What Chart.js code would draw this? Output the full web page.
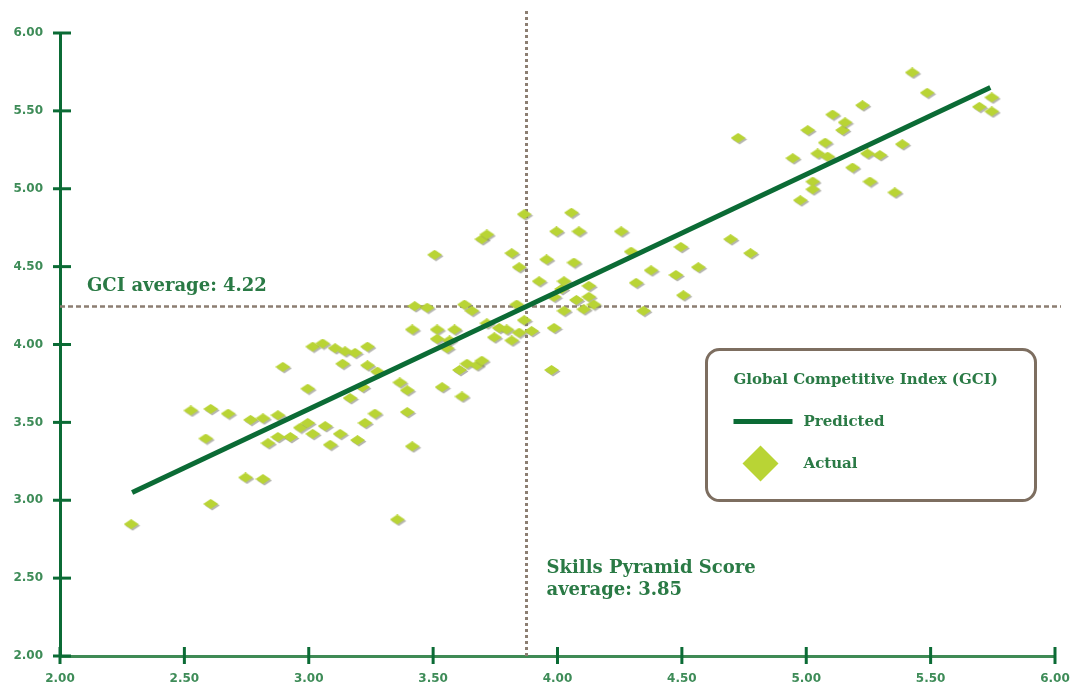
<!DOCTYPE html>
<html><head><meta charset="utf-8">
<script src="https://cdn.jsdelivr.net/npm/chart.js@4/dist/chart.umd.min.js"></script>
<style>html,body{margin:0;padding:0;background:#fff}#wrap{width:1073px;height:683px;position:relative}</style>
</head><body><div id="wrap"><canvas id="c" width="1073" height="683" style="width:1073px;height:683px"></canvas></div>
<script>
// ---- data ----
const actualX = [2.29,2.53,2.61,2.68,2.59,2.61,2.75,2.77,2.82,2.82,2.84,2.88,2.88,2.90,2.93,2.97,3.00,3.00,3.02,3.02,3.06,3.07,3.09,3.11,3.13,3.14,3.15,3.17,3.19,3.20,3.22,3.23,3.24,3.24,3.27,3.28,3.36,3.37,3.40,3.40,3.42,3.42,
3.43,3.48,3.51,3.52,3.52,3.54,3.56,3.57,3.59,3.61,3.62,3.63,3.64,3.66,3.68,3.70,3.70,3.72,3.72,3.75,3.77,3.80,3.82,3.82,3.84,3.85,3.85,3.87,3.87,3.90,3.93,3.96,3.98,3.99,3.99,4.00,4.02,4.03,4.03,4.06,4.07,4.08,4.09,4.11,4.13,4.13,4.15,4.26,4.30,4.32,4.35,4.38,
4.48,4.50,4.51,4.57,4.70,4.73,4.78,4.95,4.98,5.01,5.03,5.03,5.05,5.08,5.09,5.11,5.15,5.16,5.19,5.23,5.25,5.26,5.30,5.36,5.39,5.43,5.49,5.70,5.75,5.75];
const actualY = [2.84,3.57,3.58,3.55,3.39,2.97,3.14,3.51,3.52,3.13,3.36,3.54,3.40,3.85,3.40,3.46,3.71,3.49,3.98,3.42,4.00,3.47,3.35,3.97,3.42,3.87,3.95,3.65,3.94,3.38,3.72,3.49,3.98,3.86,3.55,3.82,2.87,3.75,3.70,3.56,4.09,3.34,
4.24,4.23,4.57,4.09,4.03,3.72,3.97,4.02,4.09,3.83,3.66,4.25,3.87,4.21,3.86,4.67,3.89,4.13,4.70,4.04,4.10,4.09,4.58,4.02,4.25,4.49,4.07,4.83,4.15,4.08,4.40,4.54,3.83,4.30,4.10,4.72,4.35,4.40,4.21,4.84,4.52,4.28,4.72,4.22,4.37,4.30,4.25,4.72,4.59,4.39,4.21,4.47,
4.44,4.62,4.31,4.49,4.67,5.32,4.58,5.19,4.92,5.37,5.04,4.99,5.22,5.29,5.20,5.47,5.37,5.42,5.13,5.53,5.22,5.04,5.21,4.97,5.28,5.74,5.61,5.52,5.58,5.49];
const predictedX = [2.29, 5.74];
const predictedY = [3.05, 5.65];
const xTickValues = [2.00,2.50,3.00,3.50,4.00,4.50,5.00,5.50,6.00];
const yTickValues = [2.00,2.50,3.00,3.50,4.00,4.50,5.00,5.50,6.00];
const gciAverage = 4.22;      // label value
const gciLineY = 4.25;        // where the dashed line is drawn in the picture
const skillsAverage = 3.85;   // label value
const skillsLineX = 3.875;    // where the dotted line is drawn in the picture
const legendTitle = 'Global Competitive Index (GCI)';
const seriesNames = ['Predicted', 'Actual'];

// ---- styles ----
const DARK = '#0b6b35';
const LIME = '#b9d435';
const TXT = '#2a7a45';
const TICKTXT = '#3e8c58';
const REF = '#8c7e72';
const SERIF = '"DejaVu Serif", "Liberation Serif", serif';

function makeDiamond(w, h){
  const c = document.createElement('canvas');
  c.width = w + 2; c.height = h + 2;
  const g = c.getContext('2d');
  const d = (ox, oy, col) => {
    g.beginPath();
    g.moveTo(ox + w/2, oy); g.lineTo(ox + w, oy + h/2);
    g.lineTo(ox + w/2, oy + h); g.lineTo(ox, oy + h/2); g.closePath();
    g.fillStyle = col; g.fill();
  };
  d(1.5, 1.5, 'rgba(120,120,110,0.55)');
  d(0, 0, LIME);
  return c;
}
const diamondImg = makeDiamond(15, 10);

const refLines = {
  id: 'refLines',
  beforeDatasetsDraw(chart){
    const {ctx, chartArea, scales:{x, y}} = chart;
    ctx.save();
    const px = Math.round(x.getPixelForValue(skillsLineX)) + 0.5;
    ctx.strokeStyle = REF; ctx.lineWidth = 3; ctx.setLineDash([3,3]);
    ctx.beginPath(); ctx.moveTo(px, chartArea.top - 22); ctx.lineTo(px, chartArea.bottom); ctx.stroke();
    const py = Math.round(y.getPixelForValue(gciLineY)) + 0.5;
    ctx.lineWidth = 2.5; ctx.setLineDash([5,3]);
    ctx.beginPath(); ctx.moveTo(chartArea.left, py); ctx.lineTo(chartArea.right + 6, py); ctx.stroke();
    ctx.setLineDash([]);
    ctx.fillStyle = TXT; ctx.textBaseline = 'middle'; ctx.textAlign = 'left';
    ctx.font = 'bold 18px ' + SERIF;
    ctx.fillText('GCI average: ' + gciAverage.toFixed(2), chartArea.left + 27, py - 20);
    const sx = px + 20;
    const sy = y.getPixelForValue(2.56);
    ctx.fillText('Skills Pyramid Score', sx, sy);
    ctx.fillText('average: ' + skillsAverage.toFixed(2), sx, sy + 22);
    ctx.restore();
  },
  afterDraw(chart){
    const {ctx, chartArea, scales:{x, y}} = chart;
    ctx.save();
    ctx.strokeStyle = DARK; ctx.lineWidth = 3;
    y.ticks.forEach((t, i) => {
      const p = y.getPixelForTick(i);
      ctx.beginPath(); ctx.moveTo(chartArea.left - 7, p); ctx.lineTo(chartArea.left + 11, p); ctx.stroke();
    });
    x.ticks.forEach((t, i) => {
      const p = x.getPixelForTick(i);
      ctx.beginPath(); ctx.moveTo(p, chartArea.bottom - 9); ctx.lineTo(p, chartArea.bottom + 8); ctx.stroke();
    });
    const bx = 706.5, by = 349.5, bw = 329, bh = 151, r = 13;
    ctx.strokeStyle = '#7d6e60'; ctx.lineWidth = 3;
    ctx.beginPath();
    ctx.moveTo(bx + r, by); ctx.arcTo(bx + bw, by, bx + bw, by + bh, r);
    ctx.arcTo(bx + bw, by + bh, bx, by + bh, r);
    ctx.arcTo(bx, by + bh, bx, by, r);
    ctx.arcTo(bx, by, bx + bw, by, r); ctx.closePath();
    ctx.fillStyle = '#ffffff'; ctx.fill(); ctx.stroke();
    ctx.fillStyle = TXT; ctx.textBaseline = 'middle'; ctx.textAlign = 'left';
    ctx.font = 'bold 15px ' + SERIF;
    ctx.fillText(legendTitle, bx + 27, by + 31);
    ctx.strokeStyle = DARK; ctx.lineWidth = 5;
    ctx.beginPath(); ctx.moveTo(bx + 27, by + 72); ctx.lineTo(bx + 86, by + 72); ctx.stroke();
    ctx.fillText(seriesNames[0], bx + 97, by + 73);
    ctx.fillStyle = LIME;
    const dx = bx + 54, dy = by + 114;
    ctx.beginPath(); ctx.moveTo(dx, dy - 18); ctx.lineTo(dx + 18, dy); ctx.lineTo(dx, dy + 18); ctx.lineTo(dx - 18, dy); ctx.closePath(); ctx.fill();
    ctx.fillStyle = TXT;
    ctx.fillText(seriesNames[1], bx + 97, by + 115);
    ctx.restore();
  }
};

const tickFont = {family: '"DejaVu Sans", sans-serif', size: 12, weight: 'bold'};

new Chart(document.getElementById('c'), {
  type: 'scatter',
  data: {
    datasets: [
      {
        label: seriesNames[0], type: 'line', order: 0,
        data: predictedX.map((v, i) => ({x: v, y: predictedY[i]})),
        borderColor: DARK, borderWidth: 5, pointRadius: 0, fill: false, borderCapStyle: 'butt'
      },
      {
        label: seriesNames[1], order: 1,
        data: actualX.map((v, i) => ({x: v, y: actualY[i]})),
        pointStyle: diamondImg, pointRadius: 8, backgroundColor: LIME, borderWidth: 0
      }
    ]
  },
  options: {
    responsive: false, animation: false, maintainAspectRatio: false, devicePixelRatio: 1,
    layout: {padding: {top: 33, right: 18, left: 0, bottom: 0}},
    plugins: {legend: {display: false}, tooltip: {enabled: false}},
    scales: {
      x: {
        type: 'linear', min: 2, max: 6,
        afterBuildTicks: s => { s.ticks = xTickValues.map(v => ({value: v})); },
        afterFit: s => { s.height = 27; s.paddingLeft = 0; s.paddingRight = 0; },
        grid: {display: false},
        border: {display: true, color: '#3f8a55', width: 3},
        ticks: {callback: v => Number(v).toFixed(2), font: tickFont, color: TICKTXT, padding: 8, maxRotation: 0, autoSkip: false}
      },
      y: {
        type: 'linear', min: 2, max: 6,
        afterBuildTicks: s => { s.ticks = yTickValues.map(v => ({value: v})); },
        afterFit: s => { s.width = 60; s.paddingTop = 0; s.paddingBottom = 0; },
        grid: {display: false},
        border: {display: true, color: DARK, width: 3},
        ticks: {callback: v => Number(v).toFixed(2), font: tickFont, color: TICKTXT, padding: 9, autoSkip: false}
      }
    }
  },
  plugins: [refLines]
});
</script>
</body></html>
